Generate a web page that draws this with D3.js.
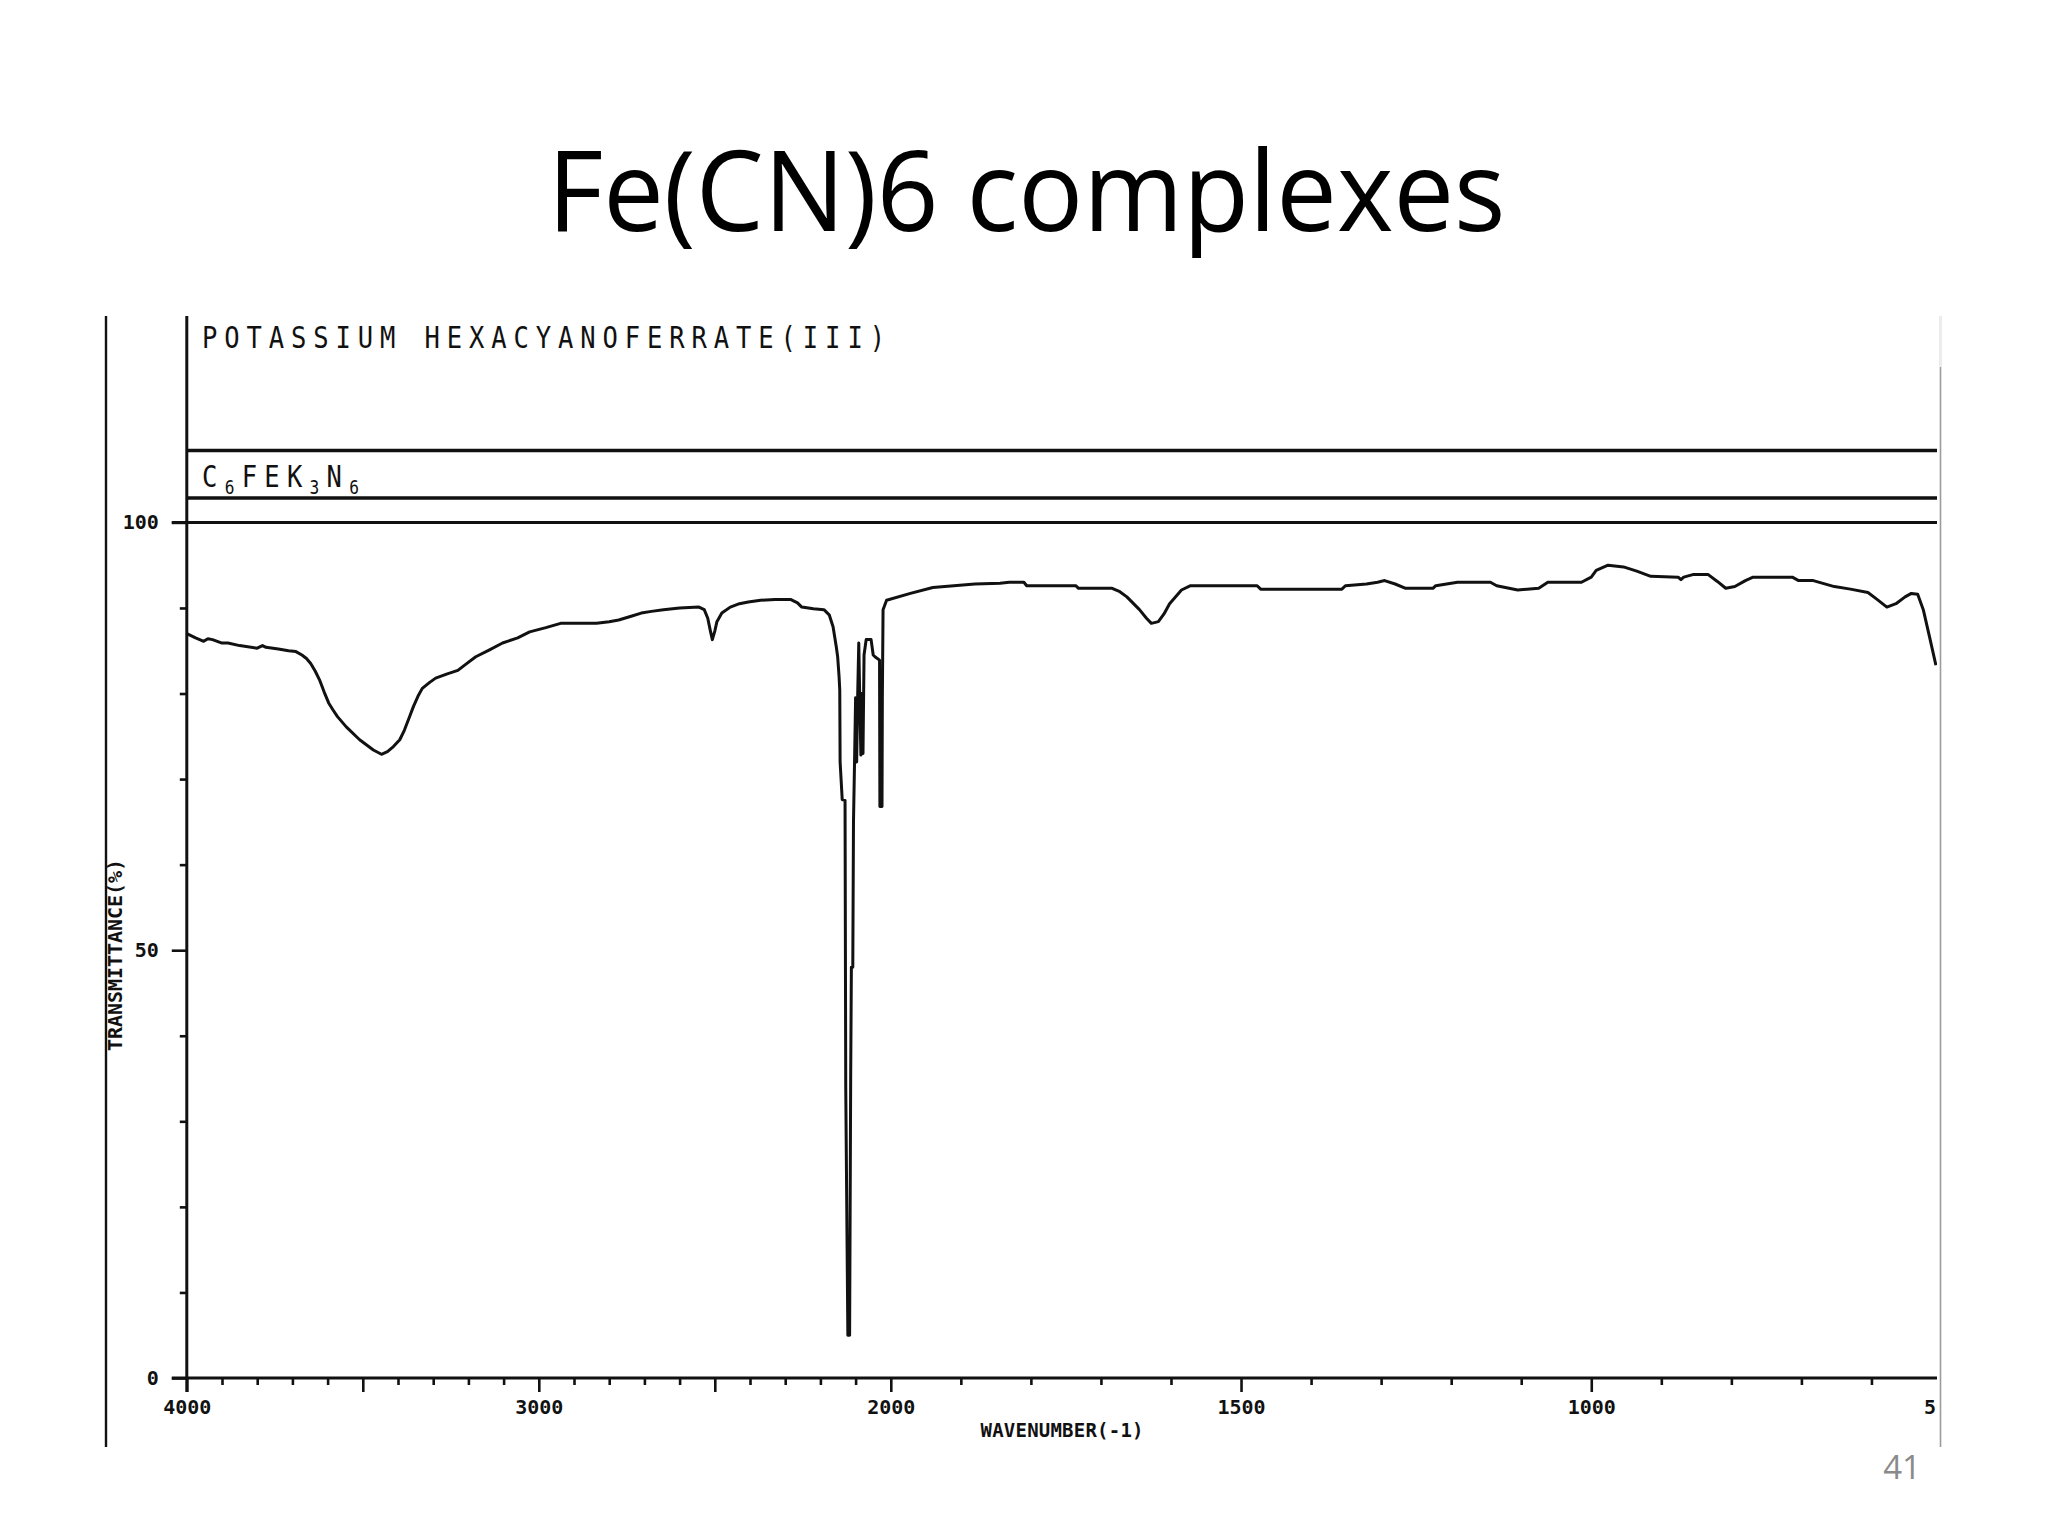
<!DOCTYPE html>
<html><head><meta charset="utf-8">
<script src="https://cdn.jsdelivr.net/npm/d3@7"></script>
<style>html,body{margin:0;padding:0;background:#fff;} svg{display:block;}</style>
</head><body>
<svg id="chart" width="2048" height="1536"></svg>
<script>
// ---------------- data ----------------
const titleText = "Fe(CN)6 complexes";
const compoundName = "POTASSIUM HEXACYANOFERRATE(III)";
const formulaParts = [["C", false], ["6", true], ["FEK", false], ["3", true], ["N", false], ["6", true]];
const xAxisTitle = "WAVENUMBER(-1)";
const yAxisTitle = "TRANSMITTANCE(%)";
const pageNumber = "41";

const wavenumbers = [
  4000, 3975, 3952, 3940, 3927, 3900, 3883, 3850, 3800, 3785, 3775, 3740, 3711, 3690, 3673, 3660,
  3648, 3635, 3623, 3610, 3597, 3585, 3572, 3547, 3509, 3470, 3447, 3430, 3413, 3395, 3382, 3368,
  3356, 3343, 3331, 3310, 3293, 3260, 3230, 3205, 3179, 3140, 3103, 3060, 3026, 2980, 2938, 2890,
  2836, 2800, 2773, 2740, 2709, 2680, 2646, 2600, 2545, 2530, 2520, 2512, 2507, 2500, 2494, 2480,
  2456, 2430, 2405, 2370, 2329, 2285, 2265, 2253, 2220, 2190, 2175, 2164, 2155, 2151, 2147, 2145,
  2144, 2138, 2130, 2128, 2122, 2117, 2114, 2112, 2108, 2106, 2103, 2100, 2097, 2094, 2091, 2088,
  2085, 2082, 2079, 2076, 2070, 2056, 2050, 2045, 2032, 2031, 2025, 2024, 2022, 2012, 1972, 1940,
  1880, 1844, 1831, 1810, 1806, 1736, 1732, 1684, 1673, 1663, 1645, 1635, 1628, 1618, 1610, 1602,
  1585, 1572, 1477, 1472, 1356, 1351, 1321, 1305, 1295, 1280, 1265, 1226, 1222, 1191, 1144, 1135,
  1105, 1075, 1062, 1014, 1000, 993, 976, 954, 935, 915, 876, 872, 868, 855, 833, 820,
  808, 795, 780, 769, 713, 704, 683, 653, 630, 605, 592, 578, 565, 552, 543, 534,
  526, 517, 508
];
const transmittance = [
  87.0, 86.5, 86.1, 86.4, 86.3, 85.9, 85.9, 85.6, 85.3, 85.6, 85.4, 85.2, 85.0, 84.9, 84.5, 84.1,
  83.5, 82.6, 81.6, 80.2, 78.9, 78.1, 77.3, 76.1, 74.6, 73.4, 72.9, 73.2, 73.8, 74.6, 75.7, 77.2,
  78.5, 79.7, 80.6, 81.3, 81.8, 82.3, 82.7, 83.5, 84.3, 85.1, 85.9, 86.5, 87.2, 87.7, 88.2, 88.2,
  88.2, 88.4, 88.6, 89.0, 89.4, 89.6, 89.8, 90.0, 90.1, 89.8, 88.8, 87.2, 86.3, 87.3, 88.4, 89.4,
  90.1, 90.5, 90.7, 90.9, 91.0, 91.0, 90.6, 90.1, 89.9, 89.8, 89.2, 87.8, 85.5, 84.3, 82.0, 80.4,
  72.0, 67.6, 67.5, 34.0, 5.0, 5.0, 35.0, 48.0, 48.0, 65.0, 72.0, 79.5, 72.0, 80.0, 85.9, 79.0,
  72.8, 80.0, 73.0, 84.5, 86.3, 86.3, 84.5, 84.3, 83.9, 66.8, 66.8, 79.6, 89.8, 90.9, 91.7, 92.4,
  92.8, 92.9, 93.0, 93.0, 92.6, 92.6, 92.3, 92.3, 91.9, 91.3, 89.8, 88.8, 88.2, 88.4, 89.3, 90.5,
  92.1, 92.6, 92.6, 92.2, 92.2, 92.6, 92.8, 93.0, 93.2, 92.8, 92.3, 92.3, 92.6, 93.0, 93.0, 92.6,
  92.1, 92.3, 93.0, 93.0, 93.6, 94.4, 95.0, 94.8, 94.3, 93.7, 93.6, 93.3, 93.6, 93.9, 93.9, 93.1,
  92.3, 92.5, 93.2, 93.6, 93.6, 93.2, 93.2, 92.5, 92.2, 91.8, 91.0, 90.1, 90.5, 91.3, 91.7, 91.6,
  89.8, 86.6, 83.3
];

const xMinorTicks = [3900, 3800, 3700, 3600, 3400, 3300, 3200, 3100, 2900, 2800, 2700, 2600, 2400, 2300, 2200, 2100,
  1900, 1800, 1700, 1600, 1400, 1300, 1200, 1100, 900, 800, 700, 600];
const xMajorTicks = [4000, 3500, 3000, 2500, 2000, 1500, 1000, 500];
const xLabelTicks = [4000, 3000, 2000, 1500, 1000, 500];
const yMajorTicks = [0, 50, 100];
const yMinorTicks = [10, 20, 30, 40, 60, 70, 80, 90];

// ---------------- layout ----------------
const svg = d3.select("#chart");
svg.append("rect").attr("width", 2048).attr("height", 1536).attr("fill", "#fff");

const x = d3.scaleLinear().domain([4000, 2000, 500]).range([186.8, 890.8, 1941.5]);
const y = d3.scaleLinear().domain([0, 100]).range([1378, 522.4]);

const clipRight = 1937;
const frameTop = 316, frameBottom = 1447;
const ink = "#111";
const plotFont = "'DejaVu Sans Mono', monospace";

svg.append("defs").append("clipPath").attr("id", "clip")
  .append("rect").attr("x", 0).attr("y", 0).attr("width", clipRight).attr("height", 1536);

// Title
svg.append("text")
  .attr("x", 1026.5).attr("y", 231)
  .attr("text-anchor", "middle")
  .attr("font-family", "'Open Sans', sans-serif")
  .attr("font-size", 112)
  .attr("textLength", 958).attr("lengthAdjust", "spacingAndGlyphs")
  .attr("fill", "#000")
  .text(titleText);

// Page number
svg.append("text")
  .attr("x", 1921).attr("y", 1479)
  .attr("text-anchor", "end")
  .attr("font-family", "'Open Sans', sans-serif")
  .attr("font-size", 33)
  .attr("fill", "#8a8a8a")
  .text(pageNumber);

// Screenshot frame lines
svg.append("line").attr("x1", 106).attr("x2", 106).attr("y1", frameTop).attr("y2", frameBottom)
  .attr("stroke", ink).attr("stroke-width", 2.4);
svg.append("line").attr("x1", 1940.5).attr("x2", 1940.5).attr("y1", 367).attr("y2", frameBottom)
  .attr("stroke", "#9c9c9c").attr("stroke-width", 1.6);
svg.append("line").attr("x1", 1940.5).attr("x2", 1940.5).attr("y1", frameTop).attr("y2", 367)
  .attr("stroke", "#ececec").attr("stroke-width", 3);

const g = svg.append("g").attr("clip-path", "url(#clip)");

// Header box lines
const x0 = x(4000);
g.append("line").attr("x1", x0).attr("x2", clipRight).attr("y1", 450.5).attr("y2", 450.5)
  .attr("stroke", ink).attr("stroke-width", 3.4);
g.append("line").attr("x1", x0).attr("x2", clipRight).attr("y1", 498).attr("y2", 498)
  .attr("stroke", ink).attr("stroke-width", 3.4);
// top frame at 100%
g.append("line").attr("x1", x0 - 15).attr("x2", clipRight).attr("y1", y(100)).attr("y2", y(100))
  .attr("stroke", ink).attr("stroke-width", 3);
// x axis baseline
g.append("line").attr("x1", x0 - 15).attr("x2", clipRight).attr("y1", y(0)).attr("y2", y(0))
  .attr("stroke", ink).attr("stroke-width", 3);
// y axis vertical (continues up through header)
g.append("line").attr("x1", x0).attr("x2", x0).attr("y1", frameTop).attr("y2", y(0) + 14)
  .attr("stroke", ink).attr("stroke-width", 3);

// Header texts (condensed plotter style)
const nameG = svg.append("g").attr("transform", "translate(202,348) scale(0.85,1)");
nameG.append("text")
  .attr("x", 0).attr("y", 0)
  .attr("font-family", plotFont).attr("font-size", 30)
  .attr("textLength", 683 / 0.85).attr("lengthAdjust", "spacing")
  .attr("fill", ink)
  .text(compoundName);

const formG = svg.append("g").attr("transform", "translate(202,487) scale(0.85,1)");
const ft = formG.append("text")
  .attr("x", 0).attr("y", 0)
  .attr("font-family", plotFont).attr("font-size", 30)
  .attr("textLength", 157 / 0.85).attr("lengthAdjust", "spacing")
  .attr("fill", ink);
let shifted = false;
formulaParts.forEach(([s, sub]) => {
  const ts = ft.append("tspan").text(s);
  if (sub) ts.attr("font-size", 19);
  if (sub && !shifted) { ts.attr("dy", 7); shifted = true; }
  else if (!sub && shifted) { ts.attr("dy", -7); shifted = false; }
});

// ---------------- axes ----------------
function styleAxis(sel) {
  sel.select(".domain").remove();
  sel.selectAll(".tick line").attr("stroke", ink).attr("stroke-width", 2.6);
  sel.selectAll(".tick text")
    .attr("font-family", plotFont).attr("font-weight", "bold")
    .attr("font-size", 20).attr("fill", ink);
}

g.append("g").attr("transform", `translate(0,${y(0)})`)
  .call(d3.axisBottom(x).tickValues(xMinorTicks).tickSize(7).tickFormat(""))
  .call(styleAxis);
g.append("g").attr("transform", `translate(0,${y(0)})`)
  .call(d3.axisBottom(x).tickValues(xMajorTicks).tickSize(14).tickPadding(8)
    .tickFormat(d => xLabelTicks.includes(d) ? String(d) : ""))
  .call(styleAxis);

svg.append("g").attr("transform", `translate(${x0},0)`)
  .call(d3.axisLeft(y).tickValues(yMinorTicks).tickSize(7).tickFormat(""))
  .call(styleAxis);
svg.append("g").attr("transform", `translate(${x0},0)`)
  .call(d3.axisLeft(y).tickValues(yMajorTicks).tickSize(15).tickPadding(13).tickFormat(d => String(d)))
  .call(styleAxis);

// Axis titles
svg.append("text")
  .attr("x", 1062).attr("y", 1437)
  .attr("text-anchor", "middle")
  .attr("font-family", plotFont).attr("font-weight", "bold").attr("font-size", 19)
  .attr("textLength", 163).attr("lengthAdjust", "spacing")
  .attr("fill", ink)
  .text(xAxisTitle);

svg.append("text")
  .attr("transform", "translate(122,955) rotate(-90)")
  .attr("x", 0).attr("y", 0)
  .attr("text-anchor", "middle")
  .attr("font-family", plotFont).attr("font-weight", "bold").attr("font-size", 20)
  .attr("textLength", 192).attr("lengthAdjust", "spacing")
  .attr("fill", ink)
  .text(yAxisTitle);

// ---------------- spectrum ----------------
const spectrum = wavenumbers.map((w, i) => ({ wn: w, t: transmittance[i] }));
g.append("path")
  .datum(spectrum)
  .attr("fill", "none")
  .attr("stroke", ink)
  .attr("stroke-width", 3)
  .attr("stroke-linejoin", "round")
  .attr("d", d3.line().x(d => x(d.wn)).y(d => y(d.t)));
</script>
</body></html>
